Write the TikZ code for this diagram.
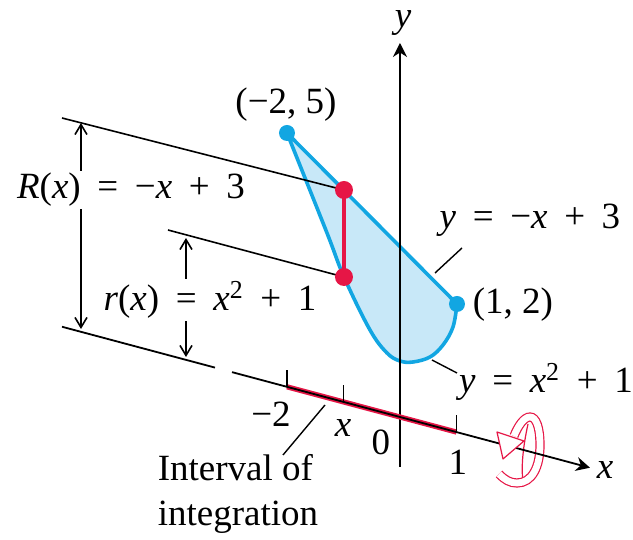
\documentclass[tikz,border=0pt]{standalone}
\usepackage{fontspec}
\setmainfont{Liberation Serif}
\usepackage{xcolor}
\usepackage{tikz}
\usetikzlibrary{arrows.meta}
\definecolor{areablue}{RGB}{200,232,248}
\definecolor{edgeblue}{RGB}{18,166,226}
\definecolor{segred}{RGB}{230,22,70}
\newcommand{\vx}{\textit{x}}
\newcommand{\vy}{\textit{y}}
\newcommand{\widesp}{\spaceskip 0.45em\relax}
\tikzset{
  lab/.style={font=\fontsize{18.5}{22.5}\selectfont, inner sep=1pt},
  eqn/.style={lab, execute at begin node=\widesp},
  dim/.style={line width=0.8pt, -{Straight Barb[length=5pt,width=6pt]}},
  ax/.style={line width=0.9pt},
  ribbon/.style={segred, line width=0.6pt, double=white, double distance=3.4pt},
}

\begin{document}
\begin{tikzpicture}[x=0.5pt,y=0.5pt,>={Stealth[length=7pt,width=7pt]}]
\def\k{0.267}
\useasboundingbox (-400,-123) rectangle (233,417);
\coordinate (A) at (-113,284); \coordinate (B) at (57,113);
\coordinate (P) at (-56,227); \coordinate (Q) at (-56,140);
\filldraw[fill=areablue,draw=edgeblue,line width=1.8pt,line join=round] (A) -- (B) -- plot[smooth,tension=0.6] coordinates {(B) (53,90) (43,72) (30,60) (13,55) (0,56) (-13,64) (-30,87) (Q) (-73,184) (A)} -- cycle;
\coordinate (yb) at (0,-50); \coordinate (yt) at (0,374);
\draw[->,ax] (yb) -- (yt);
\coordinate (Rs) at (-338,299); \coordinate (rs) at (-232,187);
\draw[line width=0.8pt] (Rs) -- (P); \draw[line width=0.8pt] (rs) -- (Q);
\coordinate (l1a) at (62,169); \coordinate (l1b) at (35,144); \draw[line width=0.7pt] (l1a) -- (l1b);
\coordinate (l2a) at (32,57); \coordinate (l2b) at (57,44); \draw[line width=0.7pt] (l2a) -- (l2b);
\draw[segred,line width=2pt] (P) -- (Q);
\fill[segred] (P) circle (9); \fill[segred] (Q) circle (9);
\fill[edgeblue] (A) circle (8); \fill[edgeblue] (B) circle (8);
\coordinate (xs) at (-338,{\k*338}); \coordinate (g1) at (-185,{\k*185});
\coordinate (g2) at (-168,{\k*168}); \coordinate (xe) at (190,{-\k*190});
\coordinate (im) at (-113,{\k*113}); \coordinate (ip) at (56.5,{-\k*56.5});
\draw[segred,line width=2.6pt] (im) -- (ip);
\draw[segred,line width=0.6pt] (128,-7) .. controls (123,-30) and (121,-50) .. (123,-64);
\draw[ribbon,line cap=butt] (99,-57) .. controls (105,-63) and (110,-66) .. (117,-66) .. controls (132,-66) and (140,-50) .. (140,-28) .. controls (140,-10) and (136,0) .. (130,0) .. controls (124,0) and (118,-9) .. (114,-19);
\draw[ax] (xs) -- (g1); \draw[->,ax] (g2) -- (xe);
\filldraw[fill=white,draw=segred,line width=0.6pt,line join=round] (97,-15) -- (124,-24) -- (103,-42) -- cycle;
\foreach \t in {-113,-56.5,56.5} \draw[ax] (\t,{-\k*\t}) -- ++(0,17);
\node[lab] (ylab) at (3,394) {\vy};
\node[lab] (xlab) at (205,-53) {\vx};
\node[lab] (Alab) at (-114,312) {(−2, 5)};
\node[lab] (Blab) at (113,112) {(1, 2)};
\node[lab] (tm2) at (-129,3) {−2};
\node[lab] (tx) at (-57,-11) {\vx};
\node[lab] (t0) at (-19,-25) {0};
\node[lab] (t1) at (58,-45) {1};
\node[eqn] (Rlab) at (-269,227) {\textit{R}(\vx) = −\vx{} + 3};
\node[eqn] (rlab) at (-190,117) {\textit{r}(\vx) = \vx\textsuperscript{2} + 1};
\node[eqn] (uplab) at (130,197) {\vy{} = −\vx{} + 3};
\node[eqn] (lolab) at (146,35) {\vy{} = \vx\textsuperscript{2} + 1};
\node[lab,align=left] (Ilab) at (-162,-77) {Interval of\\integration};
\coordinate (Rt) at (-319,294); \coordinate (Rb) at (-319,88);
\draw[dim] (Rlab.north -| Rt) -- (Rt); \draw[dim] (Rlab.south -| Rb) -- (Rb);
\coordinate (rt) at (-214,179); \coordinate (rb) at (-214,60);
\draw[dim] (rlab.north -| rt) -- (rt); \draw[dim] (rlab.south -| rb) -- (rb);
\coordinate (i1) at (-117,-38); \coordinate (i2) at (-75,12); \draw[line width=0.7pt] (i1) -- (i2);
\end{tikzpicture}
\end{document}
